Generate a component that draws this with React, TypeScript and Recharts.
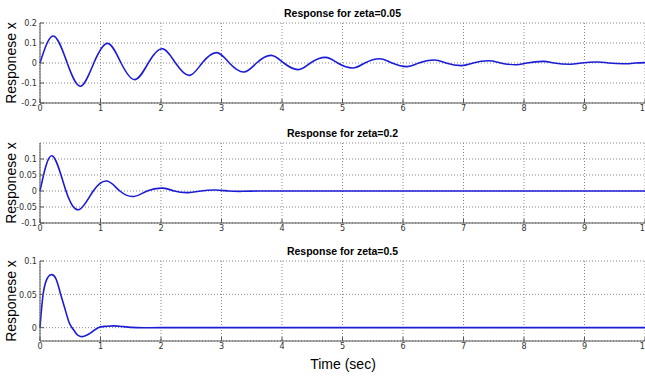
import React from "react";
import { CartesianGrid, Line, LineChart, XAxis, YAxis } from "recharts";

// zeta = 0.05 : peaks and zero crossings
const time005 = [
  0, 0.22, 0.45, 0.67, 0.89, 1.12, 1.34, 1.57, 1.79, 2.02, 2.24, 2.47, 2.68,
  2.92, 3.13, 3.37, 3.58, 3.82, 4.03, 4.27, 4.47, 4.72, 4.92, 5.17, 5.37, 5.62,
  5.82, 6.07, 6.26, 6.52, 6.71, 6.97, 7.16, 7.42, 7.61, 7.87, 8.05, 8.32, 8.5,
  8.77, 8.95, 9.22, 9.4, 9.67, 9.84, 10,
];
const resp005 = [
  0, 0.135, 0, -0.116, 0, 0.098, 0, -0.083, 0, 0.071, 0, -0.062, 0, 0.052, 0,
  -0.045, 0, 0.038, 0, -0.033, 0, 0.028, 0, -0.025, 0, 0.021, 0, -0.018, 0,
  0.015, 0, -0.013, 0, 0.011, 0, -0.009, 0, 0.008, 0, -0.006, 0, 0.005, 0,
  -0.004, 0, 0.002,
];

// zeta = 0.2
const time02 = [
  0, 0.2, 0.43, 0.65, 0.88, 1.11, 1.32, 1.55, 1.77, 2.03, 2.22, 2.45, 2.66, 2.9,
  3.12, 3.35, 3.6, 4, 5, 6, 7, 8, 9, 10,
];
const resp02 = [
  0, 0.11, 0, -0.058, 0, 0.031, 0, -0.017, 0, 0.009, 0, -0.005, 0, 0.003, 0,
  -0.001, 0, 0, 0, 0, 0, 0, 0, 0,
];

// zeta = 0.5
const time05 = [
  0, 0.05, 0.11, 0.18, 0.26, 0.33, 0.41, 0.48, 0.53, 0.6, 0.67, 0.75, 0.85,
  0.96, 1.08, 1.22, 1.38, 1.6, 2, 3, 4, 5, 6, 7, 8, 9, 10,
];
const resp05 = [
  0, 0.049, 0.072, 0.0795, 0.074, 0.054, 0.029, 0.008, 0, -0.009, -0.0133,
  -0.012, -0.007, 0, 0.002, 0.0027, 0.0015, 0, 0, 0, 0, 0, 0, 0, 0, 0, 0,
];

const xTicks = [0, 1, 2, 3, 4, 5, 6, 7, 8, 9, 10];
const yTicks005 = [-0.2, -0.1, 0, 0.1, 0.2];
const yTicks02 = [-0.1, -0.05, 0, 0.05, 0.1];
const yTicks05 = [0, 0.05, 0.1];

const toRows = (ts: number[], vs: number[]) =>
  ts.map((t, i) => ({ t, x: vs[i] }));

const tickFont = "'DejaVu Sans Condensed', Arial, sans-serif";
const labelFont = "'Liberation Sans', Arial, sans-serif";
const axisColor = "#555";

type SubPlotProps = {
  top: number;
  title: string;
  times: number[];
  values: number[];
  domain: [number, number];
  yTicks: number[];
};

function SubPlot({ top, title, times, values, domain, yTicks }: SubPlotProps) {
  const data = toRows(times, values);
  return (
    <div style={{ position: "absolute", left: 0, top, width: 645, height: 120 }}>
      <div
        style={{
          position: "absolute",
          left: 40,
          top: 6,
          width: 605,
          height: 14,
          lineHeight: "14px",
          textAlign: "center",
          fontFamily: labelFont,
          fontWeight: "bold",
          fontSize: 10.5,
          color: "#000",
        }}
      >
        {title}
      </div>
      <div
        style={{
          position: "absolute",
          left: -39,
          top: 53,
          width: 100,
          height: 20,
          lineHeight: "20px",
          textAlign: "center",
          transform: "rotate(-90deg)",
          fontFamily: labelFont,
          fontSize: 14,
          color: "#000",
        }}
      >
        Responese x
      </div>
      <LineChart
        width={645}
        height={120}
        data={data}
        margin={{ top: 23, right: 0, left: 10, bottom: 3 }}
        style={{ position: "absolute", left: 0, top: 0 }}
      >
        <CartesianGrid strokeDasharray="1 2" stroke="#888" />
        <XAxis
          type="number"
          dataKey="t"
          domain={[0, 10]}
          ticks={xTicks}
          interval={0}
          height={14}
          tickSize={-4}
          tickMargin={6}
          stroke={axisColor}
          tick={{ fill: "#333", fontSize: 9, fontFamily: tickFont }}
        />
        <XAxis
          xAxisId="top"
          orientation="top"
          type="number"
          dataKey="t"
          domain={[0, 10]}
          ticks={xTicks}
          interval={0}
          height={0}
          tickSize={-4}
          tickFormatter={() => ""}
          stroke={axisColor}
        />
        <YAxis
          type="number"
          domain={domain}
          ticks={yTicks}
          interval={0}
          width={30}
          tickSize={-4}
          tickMargin={7}
          allowDataOverflow
          stroke={axisColor}
          tickFormatter={(v: number) => String(v)}
          tick={{ fill: "#333", fontSize: 9, fontFamily: tickFont }}
        />
        <Line
          type="natural"
          dataKey="x"
          stroke="#1c1cd6"
          strokeWidth={1.6}
          dot={false}
          isAnimationActive={false}
        />
      </LineChart>
    </div>
  );
}

export default function App() {
  return (
    <div
      style={{
        position: "fixed",
        left: 0,
        top: 0,
        width: 645,
        height: 377,
        background: "#fff",
        overflow: "hidden",
      }}
    >
      <SubPlot
        top={0}
        title="Response for zeta=0.05"
        times={time005}
        values={resp005}
        domain={[-0.2, 0.2]}
        yTicks={yTicks005}
      />
      <SubPlot
        top={120}
        title="Response for zeta=0.2"
        times={time02}
        values={resp02}
        domain={[-0.1, 0.15]}
        yTicks={yTicks02}
      />
      <SubPlot
        top={238}
        title="Response for zeta=0.5"
        times={time05}
        values={resp05}
        domain={[-0.02, 0.1]}
        yTicks={yTicks05}
      />
      <div
        style={{
          position: "absolute",
          left: 243,
          top: 355,
          width: 200,
          height: 18,
          lineHeight: "18px",
          textAlign: "center",
          fontFamily: labelFont,
          fontSize: 14,
          color: "#000",
        }}
      >
        Time (sec)
      </div>
    </div>
  );
}
